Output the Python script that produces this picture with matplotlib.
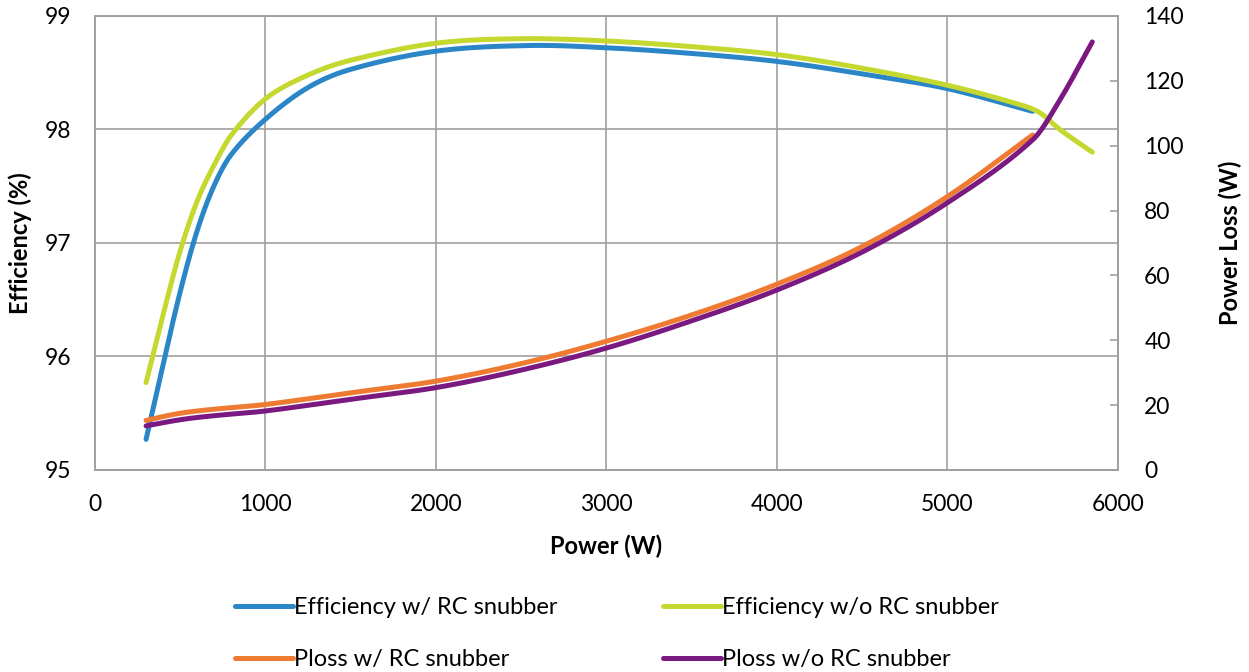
import matplotlib
matplotlib.use("Agg")
import numpy as np
import matplotlib.pyplot as plt

plt.rcParams['font.family'] = ['Lato', 'DejaVu Sans']

# efficiency with RC snubber
p_eff_rc = [300, 400, 500, 600, 700, 800, 1000, 1250, 1500, 2000, 2550,
            3000, 3500, 4000, 4500, 5000, 5500]
eff_rc = [95.27, 95.93, 96.57, 97.11, 97.51, 97.78, 98.09, 98.37, 98.53, 98.69,
          98.74, 98.72, 98.67, 98.60, 98.49, 98.36, 98.16]

# efficiency without RC snubber
p_eff_norc = [300, 400, 500, 600, 700, 800, 1000, 1250, 1500, 2000, 2500, 3000,
              3500, 4000, 4500, 5000, 5400, 5540, 5660, 5850]
eff_norc = [95.77, 96.37, 96.93, 97.37, 97.69, 97.95, 98.27, 98.48, 98.61, 98.76,
            98.80, 98.78, 98.73, 98.66, 98.54, 98.39, 98.23, 98.15, 98.00, 97.80]

# power loss with RC snubber
p_loss_rc = [300, 400, 500, 600, 750, 1000, 1500, 2000, 2500, 3000, 3500, 4000,
             4500, 5000, 5500]
loss_rc = [15.3, 16.5, 17.5, 18.2, 19.0, 20.2, 23.8, 27.4, 32.8, 39.7, 47.8, 57.3,
           68.9, 84.3, 103.3]

# power loss without RC snubber
p_loss_norc = [300, 400, 500, 600, 750, 1000, 1500, 2000, 2500, 3000, 3500, 4000,
               4500, 5000, 5500, 5660, 5850]
loss_norc = [13.6, 14.6, 15.5, 16.2, 17.0, 18.2, 21.8, 25.4, 30.8, 37.6, 46.0, 55.5,
             67.2, 82.4, 101.8, 114.1, 132.0]

c_blue = '#2B86C7'
c_green = '#C4D82F'
c_orange = '#EF7A32'
c_purple = '#7A1A80'
grid_c = '#A0A0A0'


def smooth(xs, ys, n=24):
    # cubic Hermite through the points (smoothed line look)
    x = np.asarray(xs, float)
    y = np.asarray(ys, float)
    m = np.empty_like(y)
    m[1:-1] = (y[2:] - y[:-2]) / (x[2:] - x[:-2])
    m[0] = (y[1] - y[0]) / (x[1] - x[0])
    m[-1] = (y[-1] - y[-2]) / (x[-1] - x[-2])
    px, py = [], []
    t = np.linspace(0, 1, n, endpoint=False)
    for i in range(len(x) - 1):
        h = x[i + 1] - x[i]
        h00 = 2 * t ** 3 - 3 * t ** 2 + 1
        h10 = t ** 3 - 2 * t ** 2 + t
        h01 = -2 * t ** 3 + 3 * t ** 2
        h11 = t ** 3 - t ** 2
        px.append(x[i] + h * t)
        py.append(h00 * y[i] + h10 * h * m[i] + h01 * y[i + 1] + h11 * h * m[i + 1])
    px.append([x[-1]])
    py.append([y[-1]])
    return np.concatenate(px), np.concatenate(py)


fig = plt.figure(figsize=(12.49, 6.72), dpi=100)
ax = fig.add_axes([0.076, 0.3006, 0.819, 0.6756])
ax2 = ax.twinx()

lw = 3.6
kw = dict(lw=lw, solid_capstyle='round', solid_joinstyle='round')
h1, = ax.plot(*smooth(p_eff_rc, eff_rc), color=c_blue,
              label='Efficiency w/ RC snubber', **kw)
h2, = ax.plot(*smooth(p_eff_norc, eff_norc), color=c_green,
              label='Efficiency w/o RC snubber', **kw)
h3, = ax2.plot(*smooth(p_loss_rc, loss_rc), color=c_orange,
               label='Ploss w/ RC snubber', **kw)
h4, = ax2.plot(*smooth(p_loss_norc, loss_norc), color=c_purple,
               label='Ploss w/o RC snubber', **kw)

ax.set_xlim(0, 6000)
ax.set_ylim(95, 99)
ax2.set_ylim(0, 140)
ax.set_xticks(range(0, 6001, 1000))
ax.set_yticks([95, 96, 97, 98, 99])
ax2.set_yticks(range(0, 141, 20))

ax.grid(True, color=grid_c, lw=1.2)
ax.set_axisbelow(True)
for a in (ax, ax2):
    for s in a.spines.values():
        s.set_color(grid_c)
        s.set_linewidth(1.2)

ax.tick_params(axis='y', length=0, labelsize=16.5, pad=17)
ax.tick_params(axis='x', length=0, labelsize=16.5, pad=17)
ax2.tick_params(axis='y', direction='in', length=6, color=grid_c, width=1.2,
                labelsize=16.5, pad=19)

ax.set_xlabel('Power (W)', fontsize=17, fontweight='bold', labelpad=14)
ax.set_ylabel('Efficiency (%)', fontsize=17, fontweight='bold', labelpad=9)
ax2.set_ylabel('Power Loss (W)', fontsize=17, fontweight='bold', labelpad=25)

fig.legend(handles=[h1, h3, h2, h4], ncol=2, loc='center',
           bbox_to_anchor=(0.494, 0.057), frameon=False, fontsize=17,
           handlelength=2.45, handletextpad=0.05, columnspacing=4.5,
           labelspacing=1.3)

fig.savefig('out.png', dpi=100)
